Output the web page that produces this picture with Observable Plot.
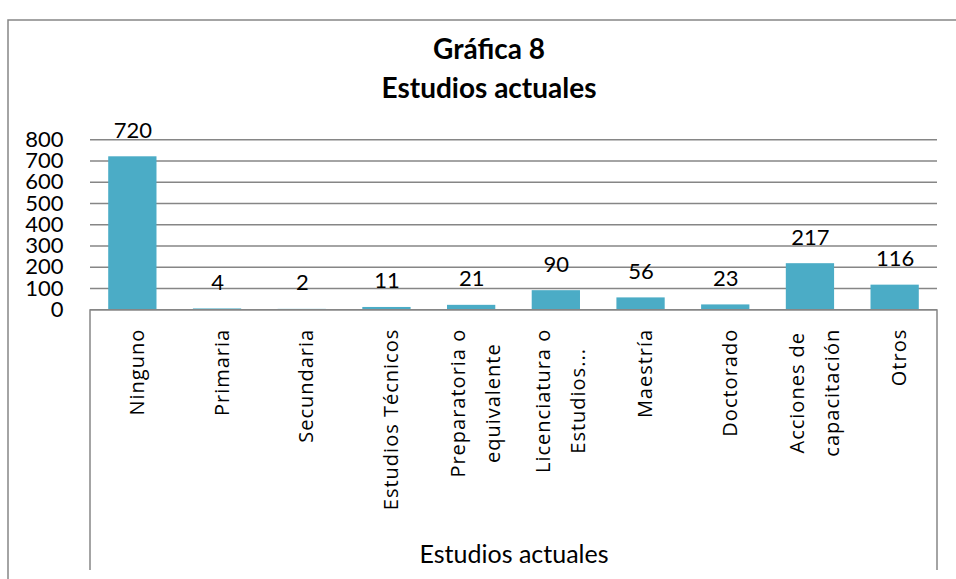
<!DOCTYPE html>
<html><head><meta charset="utf-8">
<script src="https://cdn.jsdelivr.net/npm/d3@7"></script>
<script src="https://cdn.jsdelivr.net/npm/@observablehq/plot@0.6"></script>
<style>body{margin:0;background:#fff}</style>
</head><body><div id="chart"></div>
<script>
const categories = ["Ninguno","Primaria","Secundaria","Estudios Técnicos","Preparatoria o\nequivalente","Licenciatura o\nEstudios...","Maestría","Doctorado","Acciones de\ncapacitación","Otros"];
const values = [720,4,2,11,21,90,56,23,217,116];
const yTicks = [0,100,200,300,400,500,600,700,800];
const titleLines = ["Gráfica 8","Estudios actuales"];
const axisTitle = ["Estudios actuales"];
const data = categories.map((c,i)=>({category:c, value:values[i]}));

const gray = "#868686";
const catFont = 20, catSpacing = 1;
const ctx = document.createElement("canvas").getContext("2d");
ctx.font = `${catFont}px "Open Sans"`;
const labelLen = c => d3.max(c.split("\n"), s => ctx.measureText(s).width + catSpacing * s.length);

function boxRender(index, scales, values, dim) {
  const g = d3.create("svg:g").attr("stroke", gray).attr("fill","none");
  const x0 = dim.marginLeft, x1 = dim.width - dim.marginRight, yb = dim.height - dim.marginBottom;
  g.append("path").attr("d", `M8,${dim.height}V20H${dim.width}`).attr("stroke-width",1.5);
  g.append("path").attr("d", `M${x0},${yb}V570M${x1},${yb}V570`).attr("stroke-width",1.5);
  return g.node();
}

const catMarks = data.map(d => Plot.text([d], {
  x: "category", text: "category", frameAnchor: "bottom",
  dy: 19 + labelLen(d.category) / 2, rotate: -90,
  textAnchor: "middle", lineAnchor: "middle", lineHeight: 1.75,
  fontSize: catFont, fontFamily: "'Open Sans', sans-serif", fill: "#000"
}));

const chart = Plot.plot({
  width: 956, height: 579,
  marginLeft: 90, marginRight: 19, marginTop: 139.3, marginBottom: 269.7,
  x: {domain: categories, paddingInner: 0.43, paddingOuter: 0.215, round: false, axis: null},
  y: {domain: [0, 800], axis: null},
  style: {fontFamily: "Lato, sans-serif", background: "#fff", color: "#000"},
  marks: [
    boxRender,
    Plot.gridY(yTicks, {stroke: gray, strokeOpacity: 1, strokeWidth: 1.6}),
    Plot.axisY(yTicks, {tickSize: 0, tickPadding: 27, fontSize: 22, fill: "#000", label: null}),
    Plot.barY(data, {x: "category", y: "value", fill: "#4bacc6"}),
    Plot.ruleY([0], {stroke: gray, strokeWidth: 1.6}),
    Plot.text(data, {x: "category", y: "value", text: d => String(d.value), lineAnchor: "bottom", dy: -19, fontSize: 22, fill: "#000"}),
    ...catMarks,
    Plot.text(axisTitle, {frameAnchor: "bottom", dy: 562 - 309.3, text: d => d, fontSize: 25, lineAnchor: "bottom", fill: "#000"}),
    Plot.text([titleLines[0]], {frameAnchor: "top", dx: -25, dy: 58 - 139.3, text: d => d, lineAnchor: "bottom", fontSize: 28, fontWeight: "bold", fill: "#000"}),
    Plot.text([titleLines[1]], {frameAnchor: "top", dx: -25, dy: 97 - 139.3, text: d => d, lineAnchor: "bottom", fontSize: 28, fontWeight: "bold", fill: "#000"})
  ]
});
chart.querySelectorAll('g[font-family*="Open Sans"]').forEach(g => g.setAttribute("letter-spacing", catSpacing));
document.getElementById("chart").append(chart);
</script>
</body></html>
